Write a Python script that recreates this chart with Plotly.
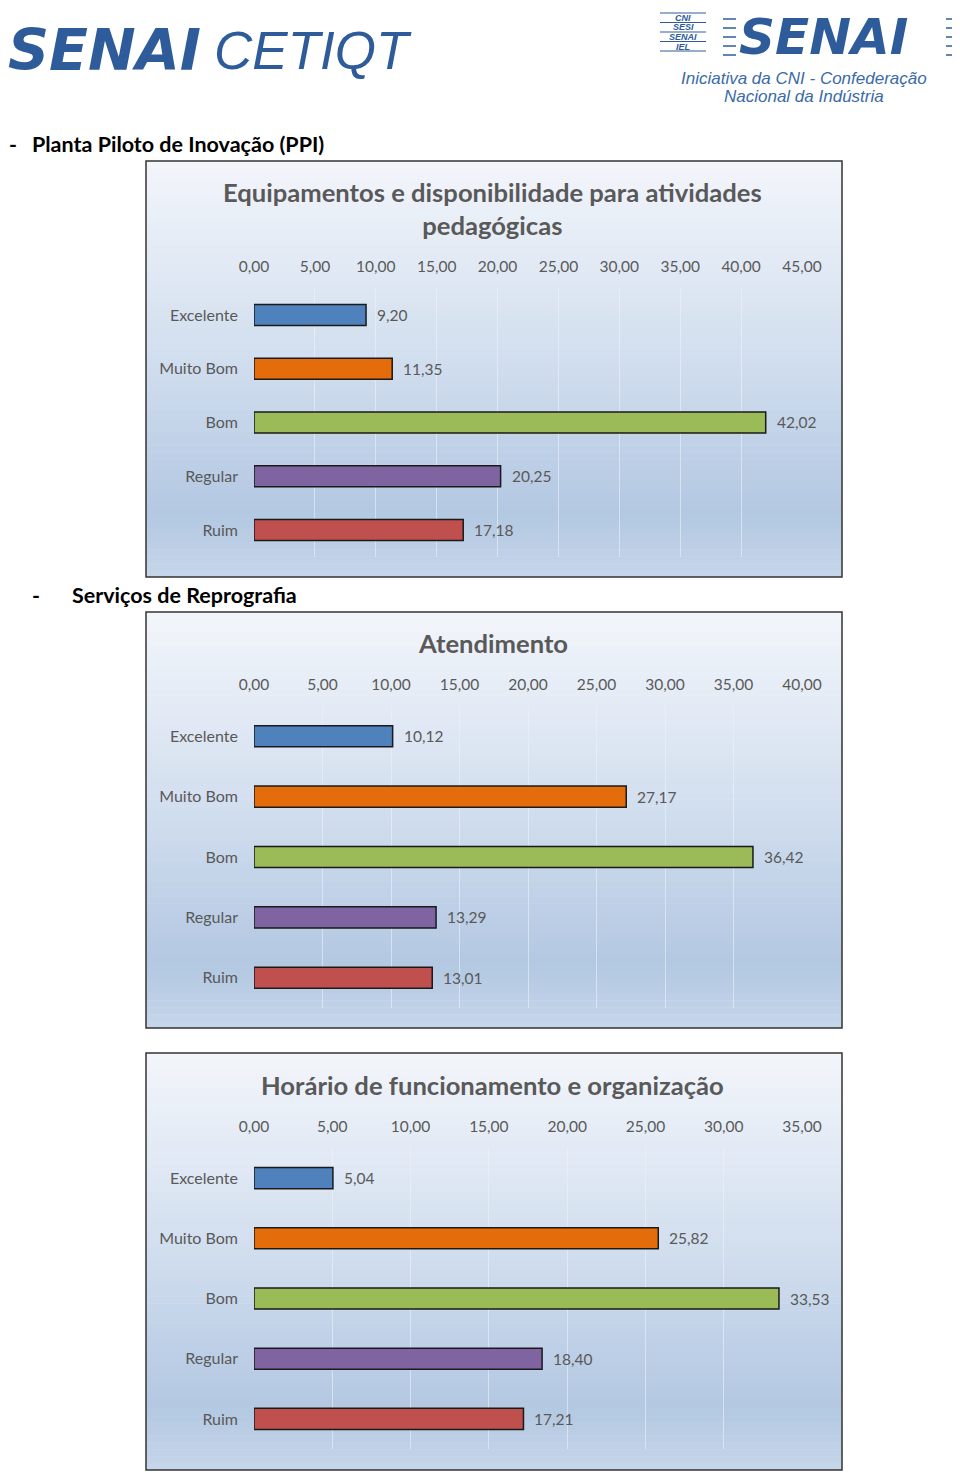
import plotly.graph_objects as go

# Browser body margin is 8px: the figure is drawn from (8, 8) in the page.
OFF = 8
W, H = 960 - OFF, 1473 - OFF

# ---------------- data ----------------
categories = ["Excelente", "Muito Bom", "Bom", "Regular", "Ruim"]
bar_colors = ["#4f81bd", "#e46c0a", "#9bbb59", "#8064a2", "#c0504d"]

chart_titles = [
    "Equipamentos e disponibilidade para atividades<br>pedagógicas",
    "Atendimento",
    "Horário de funcionamento e organização",
]
values_equipamentos = [9.20, 11.35, 42.02, 20.25, 17.18]
values_atendimento = [10.12, 27.17, 36.42, 13.29, 13.01]
values_horario = [5.04, 25.82, 33.53, 18.40, 17.21]
axis_max = [45, 40, 35]
tick_step = 5

section_headings = ["Planta Piloto de Inovação (PPI)", "Serviços de Reprografia"]

# ---------------- layout geometry (page pixels) ----------------
boxes = [(146, 161, 842, 577), (146, 612, 842, 1028), (146, 1053, 842, 1470)]
plots = [(254, 288, 802, 557), (254, 706, 802, 1008), (254, 1148, 802, 1449)]
bar_widths = [0.39, 0.35, 0.35]
title_y = [208.5, 643, 1085]

FONT = "Lato"
GRAY = "#595959"
BLUE = "#2e5c9a"


def px(x):
    return (x - OFF) / W


def py(y):
    return 1 - (y - OFF) / H


def lerp(c1, c2, t):
    return tuple(int(round(a + (b - a) * t)) for a, b in zip(c1, c2))


def hex2rgb(h):
    h = h.lstrip("#")
    return tuple(int(h[i:i + 2], 16) for i in (0, 2, 4))


grad_stops = [(0.0, hex2rgb("#f3f6fb")), (0.45, hex2rgb("#d3dfef")),
              (0.85, hex2rgb("#b3c8e2")), (1.0, hex2rgb("#c6d6ea"))]


def grad_color(t):
    for (t0, c0), (t1, c1) in zip(grad_stops[:-1], grad_stops[1:]):
        if t0 <= t <= t1:
            return "rgb(%d,%d,%d)" % lerp(c0, c1, (t - t0) / (t1 - t0))
    return "rgb(%d,%d,%d)" % grad_stops[-1][1]


all_values = [values_equipamentos, values_atendimento, values_horario]

fig = go.Figure()
shapes = []
annotations = []
layout_axes = {}

for i, (vals, vmax) in enumerate(zip(all_values, axis_max)):
    n = i + 1
    xa = "x" if n == 1 else f"x{n}"
    ya = "y" if n == 1 else f"y{n}"
    xkey = "xaxis" if n == 1 else f"xaxis{n}"
    ykey = "yaxis" if n == 1 else f"yaxis{n}"

    # background gradient stripes
    x0, y0, x1, y1 = boxes[i]
    nstripes = 60
    for s in range(nstripes):
        ya0 = y0 + (y1 - y0) * s / nstripes
        ya1 = y0 + (y1 - y0) * (s + 1) / nstripes + 0.6
        shapes.append(dict(type="rect", xref="paper", yref="paper",
                           x0=px(x0), x1=px(x1), y0=py(min(ya1, y1)), y1=py(ya0),
                           fillcolor=grad_color((s + 0.5) / nstripes),
                           line=dict(width=0), layer="below"))
    shapes.append(dict(type="rect", xref="paper", yref="paper",
                       x0=px(x0), x1=px(x1), y0=py(y1), y1=py(y0),
                       line=dict(color="#333333", width=1.5), layer="above"))

    fig.add_trace(go.Bar(
        x=vals, y=categories, orientation="h",
        marker=dict(color=bar_colors, line=dict(color="#1a1a1a", width=1.5)),
        width=bar_widths[i], xaxis=xa, yaxis=ya, showlegend=False, hoverinfo="skip",
    ))

    for v, c in zip(vals, categories):
        annotations.append(dict(
            x=v, y=c, xref=xa, yref=ya, text=f"{v:.2f}".replace(".", ","),
            xanchor="left", yanchor="middle", xshift=9, showarrow=False,
            font=dict(family=FONT, size=15.5, color=GRAY)))

    p0x, p0y, p1x, p1y = plots[i]
    layout_axes[xkey] = dict(
        domain=[px(p0x), px(p1x)], range=[0, vmax], side="top",
        anchor=ya, tickmode="array",
        tickvals=list(range(0, vmax + 1, tick_step)),
        tickformat=".2f", showgrid=True, gridcolor="rgba(236,241,248,0.6)",
        gridwidth=1.3, zeroline=False, showline=False, ticks="",
        ticklabelstandoff=12, automargin=False,
        tickfont=dict(family=FONT, size=15.5, color=GRAY), fixedrange=True)
    layout_axes[ykey] = dict(
        domain=[py(p1y), py(p0y)], anchor=xa, type="category",
        categoryorder="array", categoryarray=categories,
        range=[len(categories) - 0.5, -0.5], showgrid=False, zeroline=False,
        showline=False, ticks="", ticklabelstandoff=15, automargin=False,
        tickfont=dict(family=FONT, size=16, color=GRAY), fixedrange=True)

    annotations.append(dict(
        x=px((x0 + x1) / 2 - 1), y=py(title_y[i]), xref="paper", yref="paper",
        text=f"<b>{chart_titles[i]}</b>", showarrow=False,
        xanchor="center", yanchor="middle",
        font=dict(family=FONT, size=25.6, color=GRAY)))

# ---------------- section headings ----------------
heading_pos = [(30, 144), (70, 595)]
dash_x = [7, 30]
for (hx, hy), dx, htext in zip(heading_pos, dash_x, section_headings):
    annotations.append(dict(x=px(dx), y=py(hy), xref="paper", yref="paper", text="<b>-</b>",
                            showarrow=False, xanchor="left", yanchor="middle",
                            font=dict(family=FONT, size=21.5, color="#000000")))
    annotations.append(dict(x=px(hx), y=py(hy), xref="paper", yref="paper",
                            text=f"<b>{htext}</b>",
                            showarrow=False, xanchor="left", yanchor="middle",
                            font=dict(family=FONT, size=21.5, color="#000000")))

# ---------------- header logos ----------------
annotations.append(dict(x=px(6), y=py(50), xref="paper", yref="paper",
                        text="<b><i>SENAI</i></b>", showarrow=False,
                        xanchor="left", yanchor="middle",
                        font=dict(family="DejaVu Sans", size=57, color=BLUE)))
annotations.append(dict(x=px(212), y=py(50), xref="paper", yref="paper",
                        text="<i>CETIQT</i>", showarrow=False,
                        xanchor="left", yanchor="middle",
                        font=dict(family="Liberation Sans", size=53, color=BLUE)))
annotations.append(dict(x=px(737), y=py(0), xref="paper", yref="paper",
                        text="<b><i>SENAI</i></b>", showarrow=False,
                        xanchor="left", yanchor="top", yshift=-6,
                        font=dict(family="DejaVu Sans", size=50, color=BLUE)))
annotations.append(dict(x=px(804), y=py(78), xref="paper", yref="paper",
                        text="<i>Iniciativa da CNI - Confederação</i>", showarrow=False,
                        xanchor="center", yanchor="middle",
                        font=dict(family="Liberation Sans", size=17, color="#3a6aa8")))
annotations.append(dict(x=px(804), y=py(97), xref="paper", yref="paper",
                        text="<i>Nacional da Indústria</i>", showarrow=False,
                        xanchor="center", yanchor="middle",
                        font=dict(family="Liberation Sans", size=17, color="#3a6aa8")))
small_logo = ["CNI", "SESI", "SENAI", "IEL"]
for k, word in enumerate(small_logo):
    annotations.append(dict(x=px(683), y=py(18 + k * 9.5), xref="paper", yref="paper",
                            text=f"<b><i>{word}</i></b>", showarrow=False,
                            xanchor="center", yanchor="middle",
                            font=dict(family="Liberation Sans", size=9, color=BLUE)))
for k in range(5):
    yy = 13 + k * 9.5
    shapes.append(dict(type="line", xref="paper", yref="paper",
                       x0=px(660), x1=px(706), y0=py(yy), y1=py(yy),
                       line=dict(color=BLUE, width=1.2)))
for k in range(5):
    yy = 19 + k * 9
    shapes.append(dict(type="line", xref="paper", yref="paper",
                       x0=px(723), x1=px(736), y0=py(yy), y1=py(yy),
                       line=dict(color=BLUE, width=1.5)))
    shapes.append(dict(type="line", xref="paper", yref="paper",
                       x0=px(946), x1=px(958), y0=py(yy), y1=py(yy),
                       line=dict(color=BLUE, width=1.5)))

fig.update_layout(
    width=W, height=H, margin=dict(l=0, r=0, t=0, b=0, autoexpand=False),
    paper_bgcolor="white", plot_bgcolor="rgba(0,0,0,0)",
    separators=",.", shapes=shapes, annotations=annotations,
    font=dict(family=FONT, color=GRAY), showlegend=False, **layout_axes)

fig.write_html("out.html")
